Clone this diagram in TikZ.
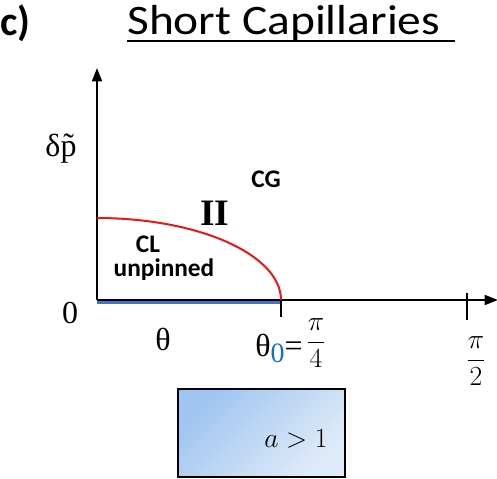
\documentclass[tikz,border=0pt]{standalone}
\usepackage{fontspec}
\setmainfont{Carlito}
\newfontfamily\timesfont{Liberation Serif}
\definecolor{curvered}{RGB}{240,20,20}
\definecolor{baseblue}{RGB}{68,114,196}
\definecolor{subblue}{RGB}{20,110,200}
\definecolor{boxdark}{RGB}{160,197,240}
\definecolor{boxlight}{RGB}{224,235,249}
\usetikzlibrary{arrows.meta,positioning}

\begin{document}
\begin{tikzpicture}[x=0.75pt,y=-0.75pt,
    axis/.style={line width=1.4pt,-{Triangle[length=10pt,width=7.5pt]}},
    tickmark/.style={line width=1.4pt},
    phase/.style={font=\fontsize{19}{19}\selectfont\bfseries,anchor=base,inner sep=0pt},
    greek/.style={font=\fontsize{24}{24}\selectfont\timesfont,anchor=base,inner sep=0pt}]
  \useasboundingbox (0,0) rectangle (497,479);

  % heading
  \node[font=\fontsize{31}{31}\selectfont\bfseries,anchor=base west,inner sep=0pt] (panel) at (0,35) {c)};
  \node[font=\fontsize{31.5}{31.5}\selectfont,anchor=base west,inner sep=0pt] (title) at (127,34)
    {\scalebox{1.13}[1]{Short Capillaries}};
  \coordinate (ulstart) at (127,41);
  \coordinate (ulend) at (455,41);
  \draw[line width=2.2pt] (ulstart) -- (ulend);

  % axes
  \coordinate (O) at (97,300);
  \coordinate (Ytip) at (97,68);
  \coordinate (Xtip) at (498,300);
  \coordinate (T0) at (281,300);
  \coordinate (Thalf) at (467,300);
  \draw[baseblue,line width=2.6pt] (97,302.5) -- (281,302.5);
  \draw[axis] (O) -- (Ytip);
  \draw[axis] (O) -- (Xtip);
  \draw[tickmark] (T0) -- ++(0,17);
  \draw[tickmark] ([yshift=5.5pt]Thalf) -- ++(0,27);

  % boundary of region II
  \draw[curvered,line width=1.5pt,smooth,samples=60,domain=90:0]
    plot ({97+184*cos(\x)},{300-82*sin(\x)});

  % labels
  \node[greek] (dp) at (61,156) {δ\~{p}};
  \node[greek] (zero) at (70,323) {0};
  \node[greek] (theta) at (163,350) {θ};
  \node[phase] (cg) at (266,187) {CG};
  \node[font=\fontsize{28}{28}\selectfont\timesfont\bfseries,anchor=base,inner sep=0pt] (two) at (215,225) {II};
  \node[phase] (cl) at (148,252) {CL};
  \node[phase] (unpinned) at (164,276) {unpinned};
  \node[greek,anchor=base west] (th0) at (255,356)
    {θ\raisebox{-5pt}{\fontsize{21}{21}\selectfont\color{subblue}0}=};
  \node[font=\fontsize{21}{21}\selectfont,anchor=base,inner sep=0pt] (frac4) at (316,349)
    {$\displaystyle\frac{\pi}{4}$};
  \node[font=\fontsize{21}{21}\selectfont,anchor=base,inner sep=0pt] (frac2) at (476,367)
    {$\displaystyle\frac{\pi}{2}$};

  % condition box
  \node[draw=black,line width=1.1pt,top color=boxdark,bottom color=boxlight,shading angle=45,
        minimum width=125pt,minimum height=66pt,inner sep=0pt] (condbox) at (261.5,433) {};
  \node[font=\fontsize{20}{20}\selectfont,anchor=base,inner sep=0pt] (cond) at (296,447) {$a>1$};
\end{tikzpicture}
\end{document}
